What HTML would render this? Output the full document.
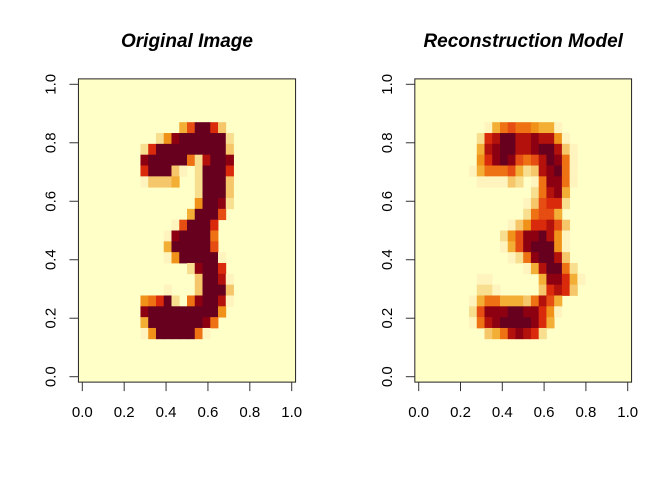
<!DOCTYPE html>
<html><head><meta charset="utf-8"><style>
html,body{margin:0;padding:0;background:#fff;}
svg{display:block;font-family:"Liberation Sans",Arial,sans-serif;}
</style></head><body>
<svg id="chart" width="672" height="480" viewBox="0 0 672 480" xmlns="http://www.w3.org/2000/svg"></svg>
<script>
// Original image rows (top to bottom), cols 8..19, codes 0-b
const originalRows = [
"000000000000","000000000000","000000000000","000000000000",
"0000047bb830","0025abbbbbb2","28bbbbbbbbb3","abbbbb629bba",
"8bbb3102bbb8","13334002bbb3","00000002bbb3","00000005bba2",
"0000004bbb70","000017bbb800","0001abbbb600","0004bbbbb700",
"00015bbbbb10","0000002abb80","00000003bb91","00010003bbb3",
"568b206abb91","abbbbbbbbb50","4bbbbbbba600","15bbbbb61000",
"000000000000","000000000000","000000000000","000000000000"];
// Reconstruction rows, cols 7..21
const reconRows = [
"000000000000000","000000000000000","000000000000000","000000000000000",
"001467665441000","0289bb99a995100","049abb99abb9310","058aba7679ba610",
"1466674239ab610","0111132016aa610","00000000269a400","000000013788200",
"000000026774000","000001358897300","0000257aab95100","0000147abbb5100",
"00000126abb9300","0000000149bb620","0110000004aa841","022100000389830",
"146644436974000","27aaabbaa851000","169abbbba840000","003469a98200000",
"000000000000000","000000000000000","000000000000000","000000000000000"];
const originalColOffset = 8;
const reconColOffset = 7;
const tickValues = [0, 0.2, 0.4, 0.6, 0.8, 1.0];
const tickLabels = ["0.0","0.2","0.4","0.6","0.8","1.0"];
const palette = ["#FFFFC8","#FFF3BE","#F8DF90","#F5C76A","#F3AE36","#F0921A","#EE7214","#E64D12","#D92B0C","#B3110B","#8C0012","#67001F"];

const svg = document.getElementById('chart');
const NS = "http://www.w3.org/2000/svg";
function mk(tag, attrs){const e=document.createElementNS(NS,tag);for(const k in attrs)e.setAttribute(k,attrs[k]);return e;}

const N = 28;
function panel(x0, x1, title, rows, offset, name){
  const g = mk('g',{});
  
  
  svg.appendChild(g);
  const yb = 376.7, yt = 84.3;
  const xs = v => x0 + v*(x1-x0);
  const ys = v => yb - v*(yb-yt);
  const h = 0.5/(N-1);
  const bx0 = xs(-h), bx1 = xs(1+h), by0 = ys(1+h), by1 = ys(-h);
  const cw = (x1-x0)/(N-1), ch = (yb-yt)/(N-1);
  const bg = mk('rect',{x:bx0,y:by0,width:bx1-bx0,height:by1-by0,fill:palette[0]});
  
  
  g.appendChild(bg);
  for(let r=0;r<N;r++){
    const row = rows[r];
    for(let c=0;c<row.length;c++){
      const v = parseInt(row[c],16);
      if(!v) continue;
      const col = c+offset;
      const cx = col/(N-1), cy = 1 - r/(N-1);
      const cell = mk('rect',{x:(xs(cx)-cw/2).toFixed(2),y:(ys(cy)-ch/2).toFixed(2),width:(cw+0.4).toFixed(2),height:(ch+0.4).toFixed(2),fill:palette[v]});
      
      
      g.appendChild(cell);
    }
  }
  const box = mk('rect',{x:bx0,y:by0,width:bx1-bx0,height:by1-by0,fill:'none',stroke:'#222','stroke-width':1});
  
  
  g.appendChild(box);
  const t = mk('text',{x:(bx0+bx1)/2,y:47,'text-anchor':'middle','font-size':19,'font-weight':'bold','font-style':'italic',fill:'#000'});
  t.textContent = title;
  
  
  g.appendChild(t);
  tickValues.forEach((v,i)=>{
    const tx = mk('line',{x1:xs(v),x2:xs(v),y1:by1,y2:by1+9,stroke:'#333','stroke-width':1});
    
    
    g.appendChild(tx);
    const lx = mk('text',{x:xs(v),y:417,'text-anchor':'middle','font-size':15,fill:'#000'});
    lx.textContent = tickLabels[i];
    
    
    g.appendChild(lx);
    const ty = mk('line',{x1:bx0,x2:bx0-9,y1:ys(v),y2:ys(v),stroke:'#333','stroke-width':1});
    
    
    g.appendChild(ty);
    const lxp = bx0-23, lyp = ys(v);
    const ly = mk('text',{x:lxp,y:lyp,'text-anchor':'middle','font-size':15,fill:'#000',transform:`rotate(-90 ${lxp} ${lyp})`});
    ly.textContent = tickLabels[i];
    
    
    g.appendChild(ly);
  });
}
panel(82.3, 291.7, "Original Image", originalRows, originalColOffset, "original-image-panel");
panel(418.7, 627.7, "Reconstruction Model", reconRows, reconColOffset, "reconstruction-panel");
</script>
</body></html>
